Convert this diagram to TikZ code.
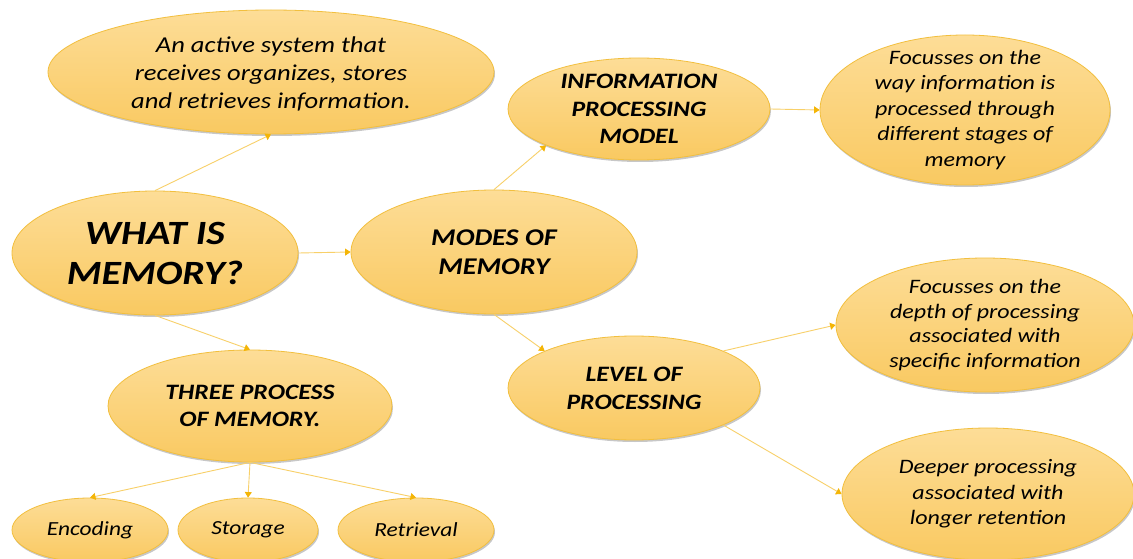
\documentclass[tikz,border=0pt]{standalone}
\usepackage{fontspec}
\setmainfont[FakeStretch=1.17]{Carlito}
\usetikzlibrary{shapes.geometric,arrows.meta,shadows}
\definecolor{ellTop}{HTML}{FDDD97}
\definecolor{ellBot}{HTML}{F9C961}
\definecolor{ellLine}{HTML}{F2BF3E}
\definecolor{connLine}{HTML}{F8D069}
\definecolor{tipCol}{HTML}{F4B506}
\tikzset{
  ell/.style={ellipse, draw=ellLine, line width=0.8pt, top color=ellTop, bottom color=ellBot,
    inner sep=0pt, drop shadow={shadow xshift=1pt, shadow yshift=-2pt, opacity=0.22, fill=black}},
  head/.style 2 args={font=\fontsize{#1}{#2}\selectfont\bfseries\itshape, align=center, text=black},
  desc/.style 2 args={font=\fontsize{#1}{#2}\selectfont\itshape, align=center, text=black},
  conn/.style={draw=connLine, line width=0.9pt, -{Triangle[width=7pt,length=5.5pt,color=tipCol]}}
}
\begin{document}
\begin{tikzpicture}[x=1pt,y=-1pt]
\clip (0,0) rectangle (1133,559);
\fill[white] (0,0) rectangle (1133,559);

% ellipses
\node[ell, minimum width=446pt, minimum height=124pt,
  label={[desc={22.7pt}{28pt}, yshift=-2pt]center:{An active system that\\receives organizes, stores\\and retrieves information.}}] (active) at (271,72) {};
\node[ell, minimum width=286pt, minimum height=124pt,
  label={[head={34pt}{40pt}]center:{WHAT IS\\MEMORY?}}] (what) at (155,253) {};
\node[ell, minimum width=286pt, minimum height=124pt,
  label={[head={24pt}{29.5pt}]center:{MODES OF\\MEMORY}}] (modes) at (494,252) {};
\node[ell, minimum width=262pt, minimum height=102pt,
  label={[head={22pt}{27.5pt}]center:{INFORMATION\\PROCESSING\\MODEL}}] (info) at (639,109) {};
\node[ell, minimum width=290pt, minimum height=150pt,
  label={[desc={20.5pt}{25.5pt}]center:{Focusses on the\\way information is\\processed through\\different stages of\\memory}}] (way) at (965,110) {};
\node[ell, minimum width=252pt, minimum height=104pt,
  label={[head={22pt}{28pt}]center:{LEVEL OF\\PROCESSING}}] (level) at (634,388) {};
\node[ell, minimum width=298pt, minimum height=134pt,
  label={[desc={20.5pt}{24.5pt}]center:{Focusses on the\\depth of processing\\associated with\\specific information}}] (depth) at (985,325) {};
\node[ell, minimum width=292pt, minimum height=132pt,
  label={[desc={20.5pt}{25.5pt}]center:{Deeper processing\\associated with\\longer retention}}] (deeper) at (988,494) {};
\node[ell, minimum width=284pt, minimum height=112pt,
  label={[head={22pt}{27pt}]center:{THREE PROCESS\\OF MEMORY.}}] (three) at (250,406) {};
\node[ell, minimum width=156pt, minimum height=64pt,
  label={[desc={20pt}{24pt}]center:{Encoding}}] (enc) at (90,530) {};
\node[ell, minimum width=140pt, minimum height=64pt,
  label={[desc={20pt}{24pt}]center:{Storage}}] (sto) at (248,530) {};
\node[ell, minimum width=156pt, minimum height=64pt,
  label={[desc={20pt}{24pt}]center:{Retrieval}}] (ret) at (416,530) {};

% connectors
\draw[conn] (what.north) -- (active.south);
\draw[conn] (what.east) -- (modes.west);
\draw[conn] (what.south) -- (three.north);
\draw[conn] (modes.north) -- (info.south west);
\draw[conn] (info.east) -- (way.west);
\draw[conn] (modes.south) -- (level.north west);
\draw[conn] (level.north east) -- (depth.west);
\draw[conn] (level.south east) -- (deeper.west);
\draw[conn] (three.south) -- (enc.north);
\draw[conn] (three.south) -- (sto.north);
\draw[conn] (three.south) -- (ret.north);
\end{tikzpicture}
\end{document}
